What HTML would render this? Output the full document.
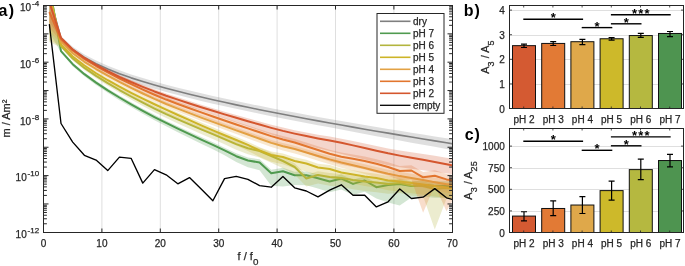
<!DOCTYPE html>
<html><head><meta charset="utf-8"><style>
html,body{margin:0;padding:0;background:#fff;}
svg{display:block;will-change:transform;}
.t{font-family:"Liberation Sans",sans-serif;font-size:10px;fill:#262626;stroke:#262626;stroke-width:0.25px;}
.lb{font-family:"Liberation Sans",sans-serif;font-size:16px;font-weight:bold;fill:#000;}
.st{font-family:"Liberation Sans",sans-serif;font-size:13px;font-weight:bold;fill:#000;}
</style></head><body>
<svg width="685" height="266" viewBox="0 0 685 266">
<defs><clipPath id="clipA"><rect x="43.5" y="5.5" width="409" height="227"/></clipPath></defs>
<line x1="101.9" y1="5.5" x2="101.9" y2="232.5" stroke="#dfdfdf" stroke-width="1"/>
<line x1="160.3" y1="5.5" x2="160.3" y2="232.5" stroke="#dfdfdf" stroke-width="1"/>
<line x1="218.7" y1="5.5" x2="218.7" y2="232.5" stroke="#dfdfdf" stroke-width="1"/>
<line x1="277.1" y1="5.5" x2="277.1" y2="232.5" stroke="#dfdfdf" stroke-width="1"/>
<line x1="335.5" y1="5.5" x2="335.5" y2="232.5" stroke="#dfdfdf" stroke-width="1"/>
<line x1="393.9" y1="5.5" x2="393.9" y2="232.5" stroke="#dfdfdf" stroke-width="1"/>
<g clip-path="url(#clipA)">
<polygon points="49.34,-6.50 61.02,36.32 72.70,46.86 84.38,54.49 96.06,60.48 107.74,65.65 119.42,70.26 131.10,74.42 142.78,78.08 154.46,81.47 166.14,84.64 177.82,87.68 189.50,90.58 201.18,93.35 212.86,96.01 224.54,98.59 236.22,101.08 247.90,103.50 259.58,105.86 271.26,108.16 282.94,110.41 294.62,112.62 306.30,114.79 317.98,116.92 329.66,119.01 341.34,121.06 353.02,123.07 364.70,125.05 376.38,127.01 388.06,128.94 399.74,130.85 411.42,132.74 423.10,134.61 434.78,136.46 446.46,138.30 458.14,140.15 458.14,150.85 446.46,148.89 434.78,146.82 423.10,144.74 411.42,142.64 399.74,140.51 388.06,138.37 376.38,136.21 364.70,134.02 353.02,131.81 341.34,129.57 329.66,127.37 317.98,125.21 306.30,123.00 294.62,120.76 282.94,118.48 271.26,116.16 259.58,113.78 247.90,111.35 236.22,108.85 224.54,106.29 212.86,103.64 201.18,100.91 189.50,98.07 177.82,95.09 166.14,91.98 154.46,88.70 142.78,85.17 131.10,81.37 119.42,77.07 107.74,72.32 96.06,66.80 84.38,60.25 72.70,52.06 61.02,40.42 49.34,15.00" fill="#7f7f7f" fill-opacity="0.25" stroke="none"/>
<polyline points="49.34,-5.00 61.02,38.37 72.70,49.46 84.38,57.37 96.06,63.64 107.74,68.98 119.42,73.65 131.10,77.87 142.78,81.59 154.46,85.04 166.14,88.26 177.82,91.32 189.50,94.25 201.18,97.05 212.86,99.73 224.54,102.33 236.22,104.85 247.90,107.30 259.58,109.68 271.26,112.01 282.94,114.29 294.62,116.53 306.30,118.72 317.98,120.88 329.66,122.99 341.34,125.08 353.02,127.14 364.70,129.17 376.38,131.18 388.06,133.16 399.74,135.12 411.42,137.07 423.10,138.99 434.78,140.89 446.46,142.78 458.14,144.65" fill="none" stroke="#7f7f7f" stroke-width="1.6" stroke-linejoin="round"/>
<polygon points="49.34,-15.00 61.02,49.89 72.70,62.59 84.38,72.47 96.06,80.84 107.74,88.47 119.42,95.59 131.10,102.30 142.78,108.69 154.46,114.87 166.14,120.73 177.82,126.31 189.50,131.76 201.18,137.12 212.86,142.37 224.54,147.69 236.22,153.35 247.90,157.43 259.58,159.27 271.26,169.79 282.94,167.65 294.62,171.65 306.30,171.55 317.98,174.35 329.66,177.55 341.34,174.45 353.02,179.76 364.70,176.27 376.38,182.88 388.06,180.59 399.74,179.50 411.42,181.41 423.10,180.32 434.78,181.23 446.46,181.14 458.14,181.05 458.14,197.95 446.46,197.86 434.78,197.77 423.10,196.68 411.42,197.59 399.74,205.50 388.06,202.41 376.38,198.52 364.70,191.73 353.02,195.04 341.34,189.55 329.66,192.30 317.98,188.60 306.30,185.30 294.62,184.90 282.94,186.40 271.26,185.75 259.58,170.15 247.90,167.23 236.22,162.07 224.54,155.33 212.86,149.30 201.18,143.71 189.50,138.01 177.82,132.22 166.14,126.30 154.46,120.15 142.78,113.73 131.10,107.10 119.42,100.15 107.74,92.79 96.06,84.92 84.38,76.31 72.70,66.19 61.02,52.69 49.34,32.00" fill="#4F9A4F" fill-opacity="0.25" stroke="none"/>
<polyline points="49.34,-14.00 61.02,51.19 72.70,64.19 84.38,74.15 96.06,82.60 107.74,90.31 119.42,97.51 131.10,104.30 142.78,110.77 154.46,117.03 166.14,122.97 177.82,128.63 189.50,134.16 201.18,139.60 212.86,144.93 224.54,150.38 236.22,156.22 247.90,160.48 259.58,162.50 271.26,173.20 282.94,171.20 294.62,175.30 306.30,175.30 317.98,178.20 329.66,181.50 341.34,178.50 353.02,183.90 364.70,180.50 376.38,187.20 388.06,185.00 399.74,184.00 411.42,186.00 423.10,185.00 434.78,186.00 446.46,186.00 458.14,186.00" fill="none" stroke="#4F9A4F" stroke-width="2" stroke-linejoin="round"/>
<polygon points="49.34,-11.00 61.02,44.79 72.70,56.90 84.38,66.20 96.06,74.00 107.74,81.19 119.42,87.99 131.10,94.37 142.78,100.43 154.46,106.30 166.14,111.75 177.82,116.80 189.50,121.70 201.18,126.53 212.86,131.25 224.54,136.02 236.22,140.98 247.90,145.04 259.58,147.65 271.26,152.55 282.94,157.45 294.62,163.35 306.30,174.75 317.98,171.15 329.66,173.05 341.34,173.95 353.02,175.86 364.70,177.27 376.38,178.18 388.06,179.59 399.74,178.50 411.42,180.91 423.10,181.32 434.78,184.23 446.46,183.14 458.14,184.05 458.14,199.91 446.46,198.73 434.78,229.55 423.10,196.36 411.42,195.68 399.74,193.00 388.06,193.82 376.38,192.14 364.70,190.95 353.02,189.27 341.34,187.09 329.66,185.80 317.98,183.40 306.30,186.50 294.62,174.60 282.94,168.20 271.26,162.80 259.58,157.40 247.90,154.29 236.22,149.73 224.54,144.27 212.86,139.05 201.18,133.93 189.50,128.70 177.82,123.40 166.14,117.95 154.46,112.14 142.78,105.95 131.10,99.57 119.42,92.87 107.74,85.75 96.06,78.24 84.38,70.12 72.70,60.50 61.02,47.59 49.34,42.00" fill="#B3B53E" fill-opacity="0.25" stroke="none"/>
<polyline points="49.34,-10.00 61.02,46.09 72.70,58.50 84.38,67.91 96.06,75.81 107.74,83.11 119.42,90.01 131.10,96.50 142.78,102.67 154.46,108.64 166.14,114.21 177.82,119.38 189.50,124.40 201.18,129.35 212.86,134.19 224.54,139.07 236.22,144.13 247.90,148.29 259.58,151.00 271.26,156.00 282.94,161.00 294.62,167.00 306.30,178.50 317.98,175.00 329.66,177.00 341.34,178.00 353.02,180.00 364.70,181.50 376.38,182.50 388.06,184.00 399.74,183.00 411.42,185.50 423.10,186.00 434.78,189.00 446.46,188.00 458.14,189.00" fill="none" stroke="#B3B53E" stroke-width="2" stroke-linejoin="round"/>
<polygon points="49.34,-6.00 61.02,43.50 72.70,54.88 84.38,63.81 96.06,71.44 107.74,78.32 119.42,84.67 131.10,90.67 142.78,96.39 154.46,101.91 166.14,107.22 177.82,112.41 189.50,117.50 201.18,122.48 212.86,127.36 224.54,132.16 236.22,136.82 247.90,141.69 259.58,147.15 271.26,151.55 282.94,153.45 294.62,157.35 306.30,159.75 317.98,163.65 329.66,165.05 341.34,168.45 353.02,170.36 364.70,172.27 376.38,173.68 388.06,176.09 399.74,177.00 411.42,178.41 423.10,179.82 434.78,181.23 446.46,182.64 458.14,183.05 458.14,198.91 446.46,198.23 434.78,196.55 423.10,194.86 411.42,193.18 399.74,191.50 388.06,190.32 376.38,187.64 364.70,185.95 353.02,183.77 341.34,181.59 329.66,177.80 317.98,175.90 306.30,171.50 294.62,168.60 282.94,164.20 271.26,161.80 259.58,156.90 247.90,150.94 236.22,145.57 224.54,140.41 212.86,135.16 201.18,129.88 189.50,124.50 177.82,119.01 166.14,113.42 154.46,107.75 142.78,101.91 131.10,95.87 119.42,89.55 107.74,82.88 96.06,75.68 84.38,67.73 72.70,58.48 61.02,46.30 49.34,40.00" fill="#CDB428" fill-opacity="0.25" stroke="none"/>
<polyline points="49.34,-5.00 61.02,44.80 72.70,56.48 84.38,65.52 96.06,73.25 107.74,80.24 119.42,86.70 131.10,92.80 142.78,98.63 154.46,104.25 166.14,109.68 177.82,114.99 189.50,120.20 201.18,125.30 212.86,130.30 224.54,135.21 236.22,139.97 247.90,144.94 259.58,150.50 271.26,155.00 282.94,157.00 294.62,161.00 306.30,163.50 317.98,167.50 329.66,169.00 341.34,172.50 353.02,174.50 364.70,176.50 376.38,178.00 388.06,180.50 399.74,181.50 411.42,183.00 423.10,184.50 434.78,186.00 446.46,187.50 458.14,188.00" fill="none" stroke="#CDB428" stroke-width="2" stroke-linejoin="round"/>
<polygon points="49.34,-1.00 61.02,40.44 72.70,51.58 84.38,60.13 96.06,67.26 107.74,73.84 119.42,80.06 131.10,85.89 142.78,91.43 154.46,96.77 166.14,101.73 177.82,106.30 189.50,110.72 201.18,115.08 212.86,119.34 224.54,123.54 236.22,127.65 247.90,131.70 259.58,135.87 271.26,139.88 282.94,143.09 294.62,145.81 306.30,149.16 317.98,152.63 329.66,155.95 341.34,158.92 353.02,161.56 364.70,164.16 376.38,166.93 388.06,169.64 399.74,171.86 411.42,173.69 423.10,175.48 434.78,177.52 446.46,179.45 458.14,180.57 458.14,194.32 446.46,192.70 434.78,190.27 423.10,187.73 411.42,185.44 399.74,183.11 388.06,180.39 376.38,177.18 364.70,173.91 353.02,170.81 341.34,167.67 329.66,164.33 317.98,160.78 306.30,157.06 294.62,153.47 282.94,150.51 271.26,147.06 259.58,142.81 247.90,138.40 236.22,134.11 224.54,129.76 212.86,125.35 201.18,120.91 189.50,116.37 177.82,111.77 166.14,107.02 154.46,101.85 142.78,96.27 131.10,90.49 119.42,84.42 107.74,77.96 96.06,71.14 84.38,63.77 72.70,54.98 61.02,43.14 49.34,32.00" fill="#E3A244" fill-opacity="0.25" stroke="none"/>
<polyline points="49.34,0.00 61.02,41.74 72.70,53.18 84.38,61.81 96.06,69.02 107.74,75.68 119.42,81.98 131.10,87.89 142.78,93.51 154.46,98.93 166.14,103.97 177.82,108.62 189.50,113.12 201.18,117.56 212.86,121.90 224.54,126.18 236.22,130.38 247.90,134.53 259.58,138.79 271.26,142.89 282.94,146.19 294.62,149.00 306.30,152.43 317.98,156.00 329.66,159.40 341.34,162.49 353.02,165.26 364.70,168.00 376.38,170.91 388.06,173.75 399.74,176.11 411.42,178.08 423.10,180.00 434.78,182.18 446.46,184.24 458.14,185.50" fill="none" stroke="#E3A244" stroke-width="2" stroke-linejoin="round"/>
<polygon points="49.34,11.00 61.02,37.94 72.70,48.95 84.38,57.32 96.06,64.25 107.74,70.60 119.42,76.60 131.10,82.20 142.78,87.50 154.46,92.60 166.14,97.32 177.82,101.64 189.50,105.81 201.18,109.92 212.86,113.94 224.54,117.85 236.22,121.66 247.90,125.41 259.58,129.20 271.26,132.88 282.94,136.08 294.62,138.99 306.30,142.53 317.98,146.21 329.66,149.85 341.34,152.59 353.02,154.50 364.70,156.55 376.38,159.14 388.06,162.18 399.74,166.00 411.42,165.32 423.10,171.94 434.78,170.15 446.46,173.67 458.14,175.59 458.14,191.41 446.46,211.13 434.78,185.25 423.10,212.66 411.42,179.68 399.74,180.00 388.06,175.82 376.38,172.41 364.70,169.45 353.02,167.05 341.34,164.77 329.66,161.61 317.98,157.47 306.30,153.30 294.62,149.28 282.94,145.87 271.26,142.18 259.58,138.02 247.90,133.74 236.22,129.50 224.54,125.20 212.86,120.87 201.18,116.51 189.50,112.06 177.82,107.55 166.14,102.89 154.46,97.87 142.78,92.50 131.10,86.94 119.42,81.07 107.74,74.80 96.06,68.18 84.38,60.98 72.70,52.35 61.02,40.64 49.34,28.00" fill="#E2762F" fill-opacity="0.25" stroke="none"/>
<polyline points="49.34,12.00 61.02,39.24 72.70,50.55 84.38,59.00 96.06,66.01 107.74,72.44 119.42,78.52 131.10,84.20 142.78,89.58 154.46,94.76 166.14,99.56 177.82,103.96 189.50,108.21 201.18,112.40 212.86,116.50 224.54,120.52 236.22,124.47 247.90,128.36 259.58,132.29 271.26,136.11 282.94,139.45 294.62,142.50 306.30,146.18 317.98,150.00 329.66,153.78 341.34,156.68 353.02,158.78 364.70,161.00 376.38,163.77 388.06,167.00 399.74,171.00 411.42,170.50 423.10,177.30 434.78,175.70 446.46,179.40 458.14,181.50" fill="none" stroke="#E2762F" stroke-width="2" stroke-linejoin="round"/>
<polygon points="49.34,1.00 61.02,36.56 72.70,47.90 84.38,56.27 96.06,63.18 107.74,69.36 119.42,74.88 131.10,79.98 142.78,84.74 154.46,89.28 166.14,93.47 177.82,97.35 189.50,101.08 201.18,104.72 212.86,108.25 224.54,111.69 236.22,115.02 247.90,118.28 259.58,121.55 271.26,124.71 282.94,127.59 294.62,130.16 306.30,132.49 317.98,134.64 329.66,136.59 341.34,138.70 353.02,141.07 364.70,143.50 376.38,145.96 388.06,148.38 399.74,150.46 411.42,152.21 423.10,153.97 434.78,155.86 446.46,157.78 458.14,159.67 458.14,174.83 446.46,173.28 434.78,171.69 423.10,170.13 411.42,168.71 399.74,167.29 388.06,165.18 376.38,162.36 364.70,159.50 353.02,156.67 341.34,153.90 329.66,151.11 317.98,148.20 306.30,145.09 294.62,141.80 282.94,138.27 271.26,134.51 259.58,130.55 247.90,126.48 236.22,122.42 224.54,118.29 212.86,114.32 201.18,110.53 189.50,106.63 177.82,102.64 166.14,98.50 154.46,94.06 142.78,89.30 131.10,84.31 119.42,78.99 107.74,73.24 96.06,66.84 84.38,59.69 72.70,51.10 61.02,39.16 49.34,22.00" fill="#D4562E" fill-opacity="0.25" stroke="none"/>
<polyline points="49.34,2.00 61.02,37.86 72.70,49.50 84.38,57.95 96.06,64.94 107.74,71.20 119.42,76.80 131.10,81.98 142.78,86.82 154.46,91.44 166.14,95.71 177.82,99.67 189.50,103.48 201.18,107.20 212.86,110.81 224.54,114.35 236.22,117.80 247.90,121.18 259.58,124.57 271.26,127.85 282.94,130.87 294.62,133.60 306.30,136.09 317.98,138.40 329.66,140.51 341.34,142.80 353.02,145.37 364.70,148.00 376.38,150.66 388.06,153.28 399.74,155.62 411.42,157.71 423.10,159.80 434.78,162.02 446.46,164.28 458.14,166.50" fill="none" stroke="#D4562E" stroke-width="2" stroke-linejoin="round"/>
<polyline points="49.34,24.20 61.02,123.50 72.70,142.10 84.38,155.30 96.06,160.10 107.74,170.60 119.42,157.10 131.10,158.30 142.78,183.10 154.46,169.60 166.14,174.80 177.82,183.80 189.50,177.60 201.18,189.10 212.86,200.70 224.54,178.60 236.22,176.40 247.90,179.30 259.58,185.60 271.26,187.20 282.94,176.40 294.62,187.80 306.30,191.00 317.98,196.80 329.66,190.20 341.34,184.80 353.02,195.20 364.70,195.20 376.38,206.90 388.06,201.80 399.74,189.00 411.42,198.50 423.10,197.20 434.78,188.60 446.46,197.80 458.14,201.00" fill="none" stroke="#000" stroke-width="1.35" stroke-linejoin="round"/>
</g>
<path d="M101.9,232.5v-4M101.9,5.5v4M160.3,232.5v-4M160.3,5.5v4M218.7,232.5v-4M218.7,5.5v4M277.1,232.5v-4M277.1,5.5v4M335.5,232.5v-4M335.5,5.5v4M393.9,232.5v-4M393.9,5.5v4M43.5,223.77h3.4M452.5,223.77h-3.4M43.5,218.77h3.4M452.5,218.77h-3.4M43.5,215.23h3.4M452.5,215.23h-3.4M43.5,212.48h3.4M452.5,212.48h-3.4M43.5,210.24h3.4M452.5,210.24h-3.4M43.5,208.34h3.4M452.5,208.34h-3.4M43.5,206.70h3.4M452.5,206.70h-3.4M43.5,205.25h3.4M452.5,205.25h-3.4M43.5,203.95h5M452.5,203.95h-5M43.5,195.42h3.4M452.5,195.42h-3.4M43.5,190.42h3.4M452.5,190.42h-3.4M43.5,186.88h3.4M452.5,186.88h-3.4M43.5,184.13h3.4M452.5,184.13h-3.4M43.5,181.89h3.4M452.5,181.89h-3.4M43.5,179.99h3.4M452.5,179.99h-3.4M43.5,178.35h3.4M452.5,178.35h-3.4M43.5,176.90h3.4M452.5,176.90h-3.4M43.5,175.60h5M452.5,175.60h-5M43.5,167.07h3.4M452.5,167.07h-3.4M43.5,162.07h3.4M452.5,162.07h-3.4M43.5,158.53h3.4M452.5,158.53h-3.4M43.5,155.78h3.4M452.5,155.78h-3.4M43.5,153.54h3.4M452.5,153.54h-3.4M43.5,151.64h3.4M452.5,151.64h-3.4M43.5,150.00h3.4M452.5,150.00h-3.4M43.5,148.55h3.4M452.5,148.55h-3.4M43.5,147.25h5M452.5,147.25h-5M43.5,138.72h3.4M452.5,138.72h-3.4M43.5,133.72h3.4M452.5,133.72h-3.4M43.5,130.18h3.4M452.5,130.18h-3.4M43.5,127.43h3.4M452.5,127.43h-3.4M43.5,125.19h3.4M452.5,125.19h-3.4M43.5,123.29h3.4M452.5,123.29h-3.4M43.5,121.65h3.4M452.5,121.65h-3.4M43.5,120.20h3.4M452.5,120.20h-3.4M43.5,118.90h5M452.5,118.90h-5M43.5,110.37h3.4M452.5,110.37h-3.4M43.5,105.37h3.4M452.5,105.37h-3.4M43.5,101.83h3.4M452.5,101.83h-3.4M43.5,99.08h3.4M452.5,99.08h-3.4M43.5,96.84h3.4M452.5,96.84h-3.4M43.5,94.94h3.4M452.5,94.94h-3.4M43.5,93.30h3.4M452.5,93.30h-3.4M43.5,91.85h3.4M452.5,91.85h-3.4M43.5,90.55h5M452.5,90.55h-5M43.5,82.02h3.4M452.5,82.02h-3.4M43.5,77.02h3.4M452.5,77.02h-3.4M43.5,73.48h3.4M452.5,73.48h-3.4M43.5,70.73h3.4M452.5,70.73h-3.4M43.5,68.49h3.4M452.5,68.49h-3.4M43.5,66.59h3.4M452.5,66.59h-3.4M43.5,64.95h3.4M452.5,64.95h-3.4M43.5,63.50h3.4M452.5,63.50h-3.4M43.5,62.20h5M452.5,62.20h-5M43.5,53.67h3.4M452.5,53.67h-3.4M43.5,48.67h3.4M452.5,48.67h-3.4M43.5,45.13h3.4M452.5,45.13h-3.4M43.5,42.38h3.4M452.5,42.38h-3.4M43.5,40.14h3.4M452.5,40.14h-3.4M43.5,38.24h3.4M452.5,38.24h-3.4M43.5,36.60h3.4M452.5,36.60h-3.4M43.5,35.15h3.4M452.5,35.15h-3.4M43.5,33.85h5M452.5,33.85h-5M43.5,25.32h3.4M452.5,25.32h-3.4M43.5,20.32h3.4M452.5,20.32h-3.4M43.5,16.78h3.4M452.5,16.78h-3.4M43.5,14.03h3.4M452.5,14.03h-3.4M43.5,11.79h3.4M452.5,11.79h-3.4M43.5,9.89h3.4M452.5,9.89h-3.4M43.5,8.25h3.4M452.5,8.25h-3.4M43.5,6.80h3.4M452.5,6.80h-3.4" stroke="#262626" stroke-width="1" fill="none"/>
<rect x="43.5" y="5.5" width="409.0" height="227.0" fill="none" stroke="#262626" stroke-width="1"/>
<rect x="377" y="13.5" width="67" height="99.8" fill="#fff" stroke="#262626" stroke-width="1"/>
<line x1="380" y1="21.30" x2="410.5" y2="21.30" stroke="#7f7f7f" stroke-width="1.6"/>
<text x="413" y="24.90" class="t">dry</text>
<line x1="380" y1="33.30" x2="410.5" y2="33.30" stroke="#4F9A4F" stroke-width="1.6"/>
<text x="413" y="36.90" class="t">pH 7</text>
<line x1="380" y1="45.30" x2="410.5" y2="45.30" stroke="#B3B53E" stroke-width="1.6"/>
<text x="413" y="48.90" class="t">pH 6</text>
<line x1="380" y1="57.30" x2="410.5" y2="57.30" stroke="#CDB428" stroke-width="1.6"/>
<text x="413" y="60.90" class="t">pH 5</text>
<line x1="380" y1="69.30" x2="410.5" y2="69.30" stroke="#E3A244" stroke-width="1.6"/>
<text x="413" y="72.90" class="t">pH 4</text>
<line x1="380" y1="81.30" x2="410.5" y2="81.30" stroke="#E2762F" stroke-width="1.6"/>
<text x="413" y="84.90" class="t">pH 3</text>
<line x1="380" y1="93.30" x2="410.5" y2="93.30" stroke="#D4562E" stroke-width="1.6"/>
<text x="413" y="96.90" class="t">pH 2</text>
<line x1="380" y1="105.30" x2="410.5" y2="105.30" stroke="#000" stroke-width="1.3"/>
<text x="413" y="108.90" class="t">empty</text>
<text x="43.50" y="247" class="t" text-anchor="middle">0</text>
<text x="101.90" y="247" class="t" text-anchor="middle">10</text>
<text x="160.30" y="247" class="t" text-anchor="middle">20</text>
<text x="218.70" y="247" class="t" text-anchor="middle">30</text>
<text x="277.10" y="247" class="t" text-anchor="middle">40</text>
<text x="335.50" y="247" class="t" text-anchor="middle">50</text>
<text x="393.90" y="247" class="t" text-anchor="middle">60</text>
<text x="452.30" y="247" class="t" text-anchor="middle">70</text>
<text x="39.1" y="238.15" class="t" text-anchor="end">10<tspan dx="0.8" dy="-5.2" font-size="8">-12</tspan></text>
<text x="39.1" y="181.45" class="t" text-anchor="end">10<tspan dx="0.8" dy="-5.2" font-size="8">-10</tspan></text>
<text x="39.1" y="124.75" class="t" text-anchor="end">10<tspan dx="0.8" dy="-5.2" font-size="8">-8</tspan></text>
<text x="39.1" y="68.05" class="t" text-anchor="end">10<tspan dx="0.8" dy="-5.2" font-size="8">-6</tspan></text>
<text x="39.1" y="11.35" class="t" text-anchor="end">10<tspan dx="0.8" dy="-5.2" font-size="8">-4</tspan></text>
<text x="237.6" y="260.2" class="t" style="font-size:11px">f / f<tspan dy="5.2" font-size="9.8">0</tspan></text>
<text transform="translate(10.2,118.6) rotate(-90)" class="t" style="font-size:11px" text-anchor="middle">m / Am²</text>
<text x="-1.5" y="15.5" class="lb">a</text><text x="8.7" y="15.5" class="lb">)</text>
<line x1="509.5" y1="84.5" x2="683.5" y2="84.5" stroke="#dfdfdf" stroke-width="1"/>
<line x1="509.5" y1="59.5" x2="683.5" y2="59.5" stroke="#dfdfdf" stroke-width="1"/>
<line x1="509.5" y1="35.5" x2="683.5" y2="35.5" stroke="#dfdfdf" stroke-width="1"/>
<line x1="509.5" y1="10.5" x2="683.5" y2="10.5" stroke="#dfdfdf" stroke-width="1"/>
<rect x="512.50" y="45.65" width="23.00" height="62.85" fill="#D45A32" stroke="#111" stroke-width="1"/>
<path d="M524.00,44.05V47.49M521.00,44.05h6M521.00,47.49h6" stroke="#000" stroke-width="1.2" fill="none"/>
<rect x="541.70" y="43.43" width="23.00" height="65.07" fill="#E27A35" stroke="#111" stroke-width="1"/>
<path d="M553.20,41.59V45.52M550.20,41.59h6M550.20,45.52h6" stroke="#000" stroke-width="1.2" fill="none"/>
<rect x="570.90" y="41.71" width="23.00" height="66.79" fill="#DFA84A" stroke="#111" stroke-width="1"/>
<path d="M582.40,39.37V44.54M579.40,39.37h6M579.40,44.54h6" stroke="#000" stroke-width="1.2" fill="none"/>
<rect x="600.10" y="38.76" width="23.00" height="69.74" fill="#CDB92A" stroke="#111" stroke-width="1"/>
<path d="M611.60,37.65V40.11M608.60,37.65h6M608.60,40.11h6" stroke="#000" stroke-width="1.2" fill="none"/>
<rect x="629.30" y="35.56" width="23.00" height="72.94" fill="#B5B840" stroke="#111" stroke-width="1"/>
<path d="M640.80,33.47V37.41M637.80,33.47h6M637.80,37.41h6" stroke="#000" stroke-width="1.2" fill="none"/>
<rect x="658.50" y="33.47" width="23.00" height="75.03" fill="#4E9450" stroke="#111" stroke-width="1"/>
<path d="M670.00,31.50V36.67M667.00,31.50h6M667.00,36.67h6" stroke="#000" stroke-width="1.2" fill="none"/>
<path d="M523.7,108.5v-2M523.7,5.5v2M552.9,108.5v-2M552.9,5.5v2M582.1,108.5v-2M582.1,5.5v2M611.3,108.5v-2M611.3,5.5v2M640.5,108.5v-2M640.5,5.5v2M669.7,108.5v-2M669.7,5.5v2M509.5,108.50h2.5M683.5,108.50h-2.5M509.5,83.90h2.5M683.5,83.90h-2.5M509.5,59.30h2.5M683.5,59.30h-2.5M509.5,34.70h2.5M683.5,34.70h-2.5M509.5,10.10h2.5M683.5,10.10h-2.5" stroke="#262626" stroke-width="0.8" fill="none"/>
<rect x="509.5" y="5.5" width="174.0" height="103.0" fill="none" stroke="#262626" stroke-width="1"/>
<line x1="524.00" y1="19.2" x2="582.40" y2="19.2" stroke="#000" stroke-width="1.4" stroke-linecap="square"/>
<text x="553.20" y="22.10" class="st" text-anchor="middle">*</text>
<line x1="582.40" y1="27.6" x2="611.60" y2="27.6" stroke="#000" stroke-width="1.4" stroke-linecap="square"/>
<text x="597.00" y="30.50" class="st" text-anchor="middle">*</text>
<line x1="611.60" y1="23.8" x2="640.80" y2="23.8" stroke="#000" stroke-width="1.4" stroke-linecap="square"/>
<text x="626.20" y="26.70" class="st" text-anchor="middle">*</text>
<line x1="611.60" y1="14.8" x2="670.00" y2="14.8" stroke="#000" stroke-width="1.4" stroke-linecap="square"/>
<text x="634.50" y="17.70" class="st" text-anchor="middle">*</text>
<text x="640.80" y="17.70" class="st" text-anchor="middle">*</text>
<text x="647.10" y="17.70" class="st" text-anchor="middle">*</text>
<text x="504.8" y="112.50" class="t" text-anchor="end">0</text>
<text x="504.8" y="87.90" class="t" text-anchor="end">1</text>
<text x="504.8" y="63.30" class="t" text-anchor="end">2</text>
<text x="504.8" y="38.70" class="t" text-anchor="end">3</text>
<text x="504.8" y="14.10" class="t" text-anchor="end">4</text>
<text x="524.00" y="122.5" class="t" text-anchor="middle">pH 2</text>
<text x="553.20" y="122.5" class="t" text-anchor="middle">pH 3</text>
<text x="582.40" y="122.5" class="t" text-anchor="middle">pH 4</text>
<text x="611.60" y="122.5" class="t" text-anchor="middle">pH 5</text>
<text x="640.80" y="122.5" class="t" text-anchor="middle">pH 6</text>
<text x="670.00" y="122.5" class="t" text-anchor="middle">pH 7</text>
<text transform="translate(489.1,57.1) rotate(-90)" class="t" style="font-size:11px" text-anchor="middle">A<tspan dy="5" font-size="9">3</tspan><tspan dy="-5"> / A</tspan><tspan dy="5" font-size="9">5</tspan></text>
<text x="463.8" y="15.8" class="lb">b</text><text x="474.6" y="15.8" class="lb">)</text>
<line x1="509.5" y1="211.5" x2="683.5" y2="211.5" stroke="#dfdfdf" stroke-width="1"/>
<line x1="509.5" y1="189.5" x2="683.5" y2="189.5" stroke="#dfdfdf" stroke-width="1"/>
<line x1="509.5" y1="168.5" x2="683.5" y2="168.5" stroke="#dfdfdf" stroke-width="1"/>
<line x1="509.5" y1="146.5" x2="683.5" y2="146.5" stroke="#dfdfdf" stroke-width="1"/>
<rect x="512.50" y="216.08" width="23.00" height="16.42" fill="#D45A32" stroke="#111" stroke-width="1"/>
<path d="M524.00,211.76V220.84M521.00,211.76h6M521.00,220.84h6" stroke="#000" stroke-width="1.2" fill="none"/>
<rect x="541.70" y="208.48" width="23.00" height="24.02" fill="#E27A35" stroke="#111" stroke-width="1"/>
<path d="M553.20,200.96V215.65M550.20,200.96h6M550.20,215.65h6" stroke="#000" stroke-width="1.2" fill="none"/>
<rect x="570.90" y="205.02" width="23.00" height="27.48" fill="#DFA84A" stroke="#111" stroke-width="1"/>
<path d="M582.40,196.64V213.49M579.40,196.64h6M579.40,213.49h6" stroke="#000" stroke-width="1.2" fill="none"/>
<rect x="600.10" y="190.60" width="23.00" height="41.90" fill="#CDB92A" stroke="#111" stroke-width="1"/>
<path d="M611.60,181.09V200.10M608.60,181.09h6M608.60,200.10h6" stroke="#000" stroke-width="1.2" fill="none"/>
<rect x="629.30" y="169.60" width="23.00" height="62.90" fill="#B5B840" stroke="#111" stroke-width="1"/>
<path d="M640.80,159.06V179.62M637.80,159.06h6M637.80,179.62h6" stroke="#000" stroke-width="1.2" fill="none"/>
<rect x="658.50" y="160.53" width="23.00" height="71.97" fill="#4E9450" stroke="#111" stroke-width="1"/>
<path d="M670.00,154.31V166.84M667.00,154.31h6M667.00,166.84h6" stroke="#000" stroke-width="1.2" fill="none"/>
<path d="M523.7,232.5v-2M523.7,128.5v2M552.9,232.5v-2M552.9,128.5v2M582.1,232.5v-2M582.1,128.5v2M611.3,232.5v-2M611.3,128.5v2M640.5,232.5v-2M640.5,128.5v2M669.7,232.5v-2M669.7,128.5v2M509.5,232.50h2.5M683.5,232.50h-2.5M509.5,210.90h2.5M683.5,210.90h-2.5M509.5,189.30h2.5M683.5,189.30h-2.5M509.5,167.70h2.5M683.5,167.70h-2.5M509.5,146.10h2.5M683.5,146.10h-2.5" stroke="#262626" stroke-width="0.8" fill="none"/>
<rect x="509.5" y="128.5" width="174.0" height="104.0" fill="none" stroke="#262626" stroke-width="1"/>
<line x1="524.00" y1="141.3" x2="582.40" y2="141.3" stroke="#000" stroke-width="1.4" stroke-linecap="square"/>
<text x="553.20" y="144.20" class="st" text-anchor="middle">*</text>
<line x1="582.40" y1="150.3" x2="611.60" y2="150.3" stroke="#000" stroke-width="1.4" stroke-linecap="square"/>
<text x="597.00" y="153.20" class="st" text-anchor="middle">*</text>
<line x1="611.60" y1="145.8" x2="640.80" y2="145.8" stroke="#000" stroke-width="1.4" stroke-linecap="square"/>
<text x="626.20" y="148.70" class="st" text-anchor="middle">*</text>
<line x1="611.60" y1="136.9" x2="670.00" y2="136.9" stroke="#000" stroke-width="1.4" stroke-linecap="square"/>
<text x="634.50" y="139.80" class="st" text-anchor="middle">*</text>
<text x="640.80" y="139.80" class="st" text-anchor="middle">*</text>
<text x="647.10" y="139.80" class="st" text-anchor="middle">*</text>
<text x="504.8" y="236.50" class="t" text-anchor="end">0</text>
<text x="504.8" y="214.90" class="t" text-anchor="end">250</text>
<text x="504.8" y="193.30" class="t" text-anchor="end">500</text>
<text x="504.8" y="171.70" class="t" text-anchor="end">750</text>
<text x="504.8" y="150.10" class="t" text-anchor="end">1000</text>
<text x="524.00" y="246.5" class="t" text-anchor="middle">pH 2</text>
<text x="553.20" y="246.5" class="t" text-anchor="middle">pH 3</text>
<text x="582.40" y="246.5" class="t" text-anchor="middle">pH 4</text>
<text x="611.60" y="246.5" class="t" text-anchor="middle">pH 5</text>
<text x="640.80" y="246.5" class="t" text-anchor="middle">pH 6</text>
<text x="670.00" y="246.5" class="t" text-anchor="middle">pH 7</text>
<text transform="translate(471.9,180.5) rotate(-90)" class="t" style="font-size:11px" text-anchor="middle">A<tspan dy="5" font-size="9">3</tspan><tspan dy="-5"> / A</tspan><tspan dy="5" font-size="9">25</tspan></text>
<text x="464.8" y="139.5" class="lb">c</text><text x="474.6" y="139.5" class="lb">)</text>
</svg>
</body></html>
